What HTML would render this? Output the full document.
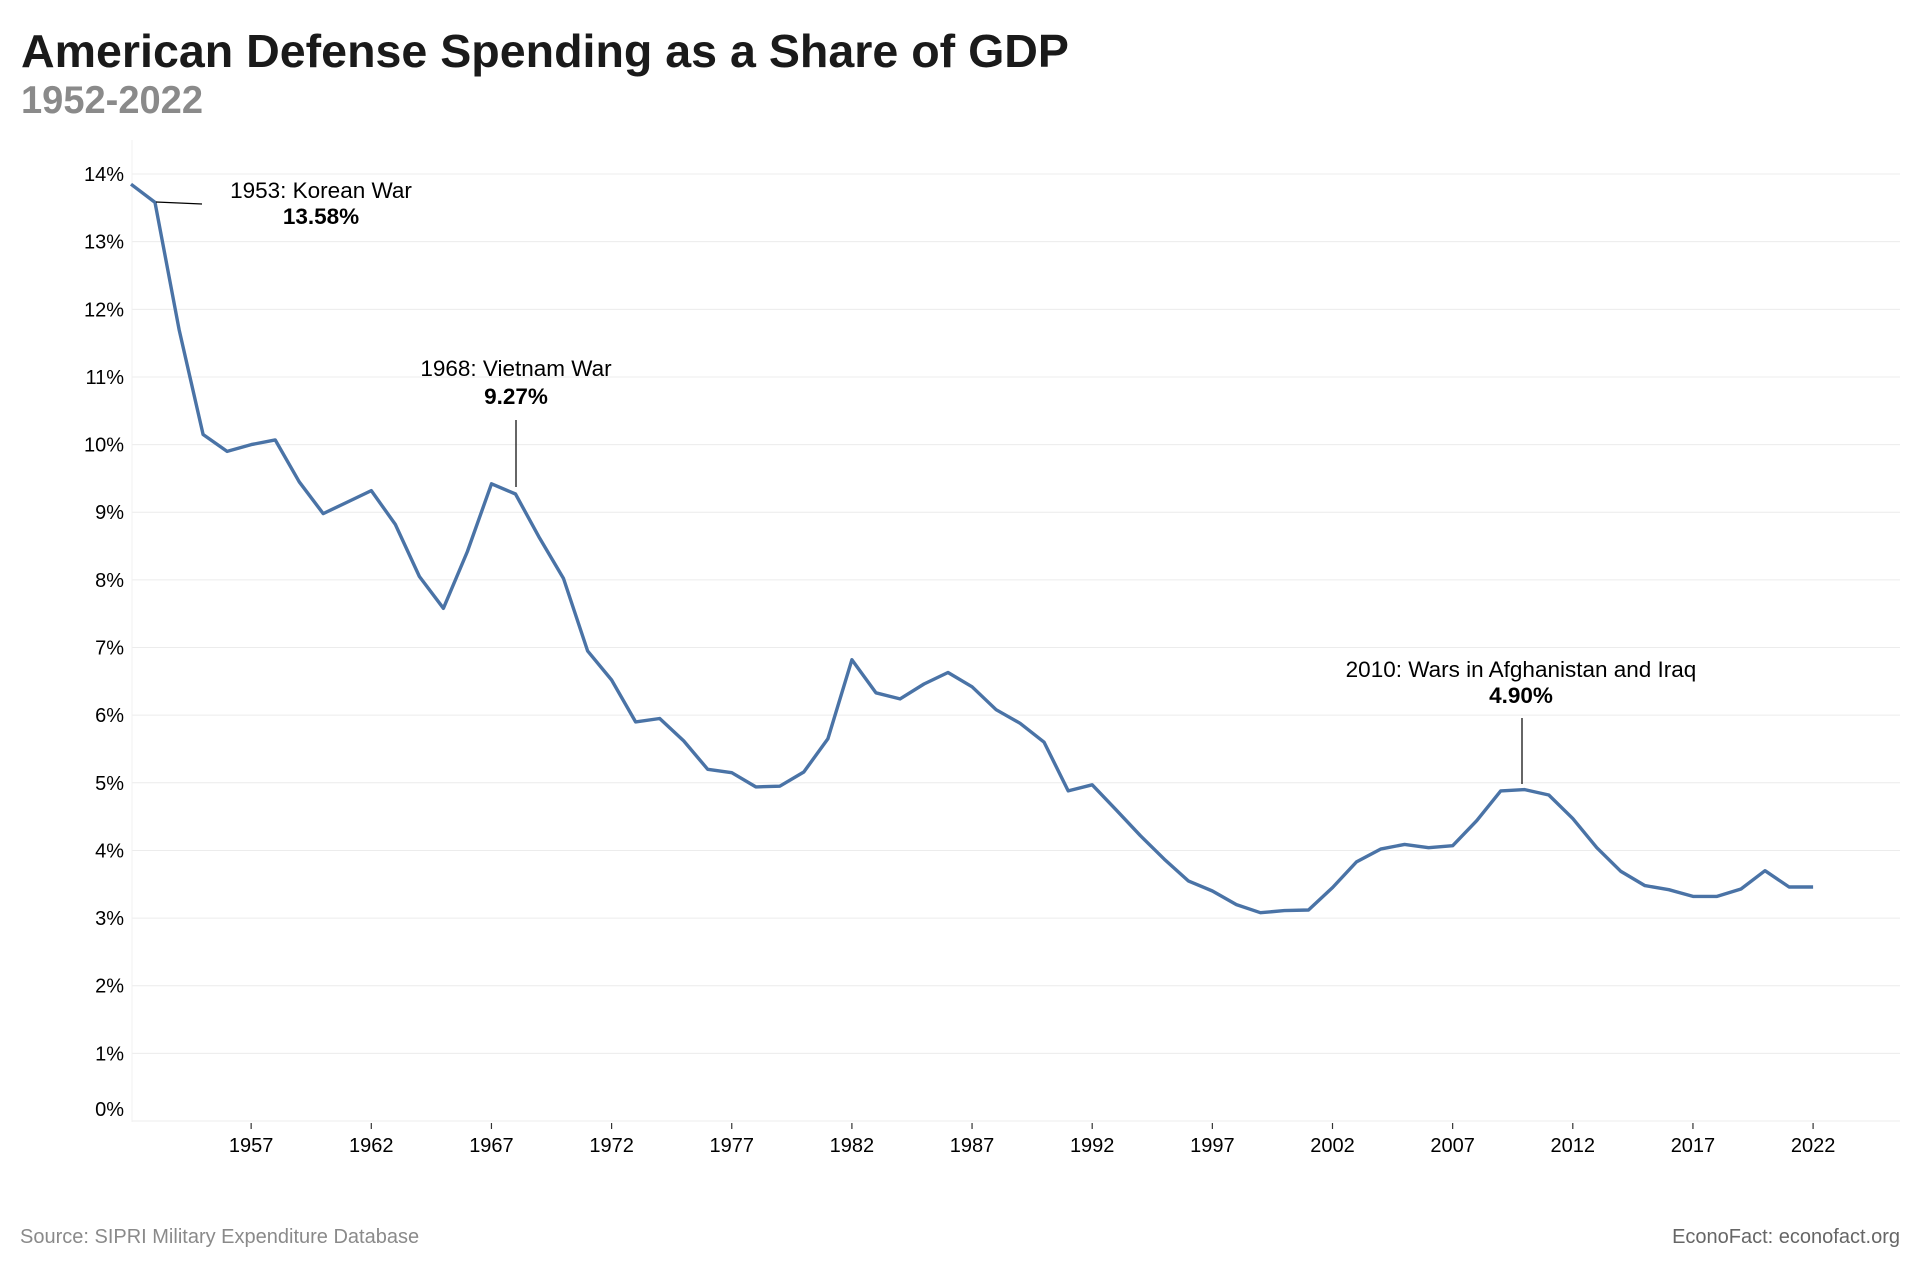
<!DOCTYPE html>
<html><head><meta charset="utf-8"><style>
html,body{margin:0;padding:0;background:#fff;}
svg{display:block;font-family:"Liberation Sans",Arial,sans-serif;}
</style></head><body>
<svg id="s" width="1920" height="1280" viewBox="0 0 1920 1280" xmlns="http://www.w3.org/2000/svg">
<rect width="1920" height="1280" fill="#fff"/>
<text x="21" y="67" font-size="46" font-weight="bold" fill="#1a1a1a" textLength="1048" lengthAdjust="spacingAndGlyphs">American Defense Spending as a Share of GDP</text>
<text x="21" y="113" font-size="39" font-weight="bold" fill="#8a8a8a" textLength="182" lengthAdjust="spacingAndGlyphs">1952-2022</text>
<g id="grid"></g>
<line x1="132" y1="140" x2="132" y2="1122" stroke="#f0f0f0" stroke-width="1"/>
<g id="ticks"></g>
<path id="ln" fill="none" stroke="#4a73a6" stroke-width="3.4" stroke-linejoin="round"/>
<g font-size="22.5" fill="#000" text-anchor="middle">
<line x1="156" y1="202" x2="202" y2="204" stroke="#000" stroke-width="1.2"/>
<text x="321" y="198">1953: Korean War</text>
<text x="321" y="224" font-weight="bold">13.58%</text>
<line x1="516" y1="420" x2="516" y2="487" stroke="#000" stroke-width="1.2"/>
<text x="516" y="376">1968: Vietnam War</text>
<text x="516" y="404" font-weight="bold">9.27%</text>
<line x1="1522" y1="718" x2="1522" y2="784" stroke="#000" stroke-width="1.2"/>
<text x="1521" y="677">2010: Wars in Afghanistan and Iraq</text>
<text x="1521" y="703" font-weight="bold">4.90%</text>
</g>
<text x="20" y="1243" font-size="20" fill="#8a8a8a">Source: SIPRI Military Expenditure Database</text>
<text x="1900" y="1243" font-size="20" fill="#666" text-anchor="end">EconoFact: econofact.org</text>
</svg>
<script>
var NS="http://www.w3.org/2000/svg";
function Y(v){return 1121-v*67.64;}
function X(yr){return 131+(yr-1952)*24.03;}
var g=document.getElementById('grid');
for(var i=0;i<=14;i++){
 var y=Y(i);
 var l=document.createElementNS(NS,'line');
 l.setAttribute('x1',132);l.setAttribute('x2',1900);l.setAttribute('y1',y);l.setAttribute('y2',y);
 l.setAttribute('stroke','#ececec');l.setAttribute('stroke-width','1');g.appendChild(l);
 var t=document.createElementNS(NS,'text');
 t.setAttribute('x',124);t.setAttribute('y',y+7-(i==0?12:0));t.setAttribute('font-size','20');t.setAttribute('text-anchor','end');t.setAttribute('fill','#000');
 t.textContent=i+'%';g.appendChild(t);
}
var tk=document.getElementById('ticks');
for(var yr=1957;yr<=2022;yr+=5){
 var x=X(yr);
 var l=document.createElementNS(NS,'line');
 l.setAttribute('x1',x);l.setAttribute('x2',x);l.setAttribute('y1',1123);l.setAttribute('y2',1129);
 l.setAttribute('stroke','#333');l.setAttribute('stroke-width','1.2');tk.appendChild(l);
 var t=document.createElementNS(NS,'text');
 t.setAttribute('x',x);t.setAttribute('y',1152);t.setAttribute('font-size','20');t.setAttribute('text-anchor','middle');t.setAttribute('fill','#000');
 t.textContent=yr;tk.appendChild(t);
}
var d=[13.85,13.58,11.7,10.15,9.9,10.0,10.07,9.45,8.98,9.15,9.32,8.82,8.05,7.58,8.42,9.42,9.27,8.62,8.02,6.95,6.52,5.9,5.95,5.62,5.2,5.15,4.94,4.95,5.16,5.65,6.82,6.33,6.24,6.46,6.63,6.42,6.08,5.88,5.6,4.88,4.97,4.6,4.22,3.87,3.55,3.4,3.2,3.08,3.11,3.12,3.45,3.83,4.02,4.09,4.04,4.07,4.44,4.88,4.90,4.82,4.47,4.04,3.69,3.48,3.42,3.32,3.32,3.43,3.70,3.46,3.46];
var p='';
for(var k=0;k<d.length;k++){p+=(k?'L':'M')+X(1952+k).toFixed(1)+','+Y(d[k]).toFixed(1);}
document.getElementById('ln').setAttribute('d',p);
</script>
</body></html>
